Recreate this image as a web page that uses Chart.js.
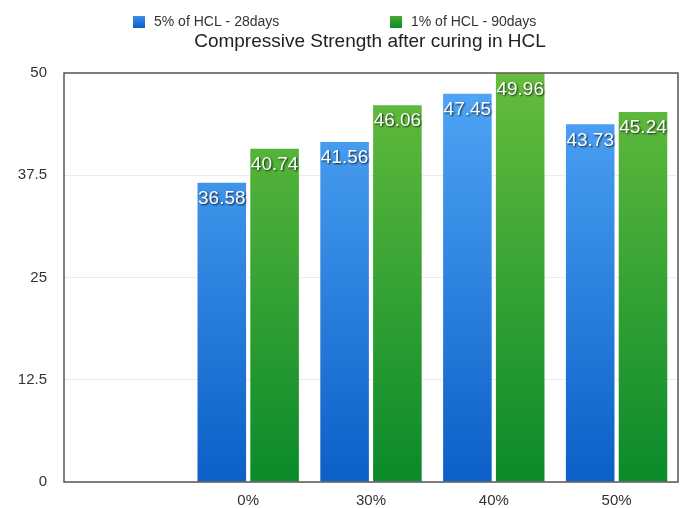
<!DOCTYPE html>
<html>
<head>
<meta charset="utf-8">
<script src="https://cdn.jsdelivr.net/npm/chart.js@4/dist/chart.umd.min.js"></script>
<style>
  html, body { margin: 0; padding: 0; background: #ffffff; }
  #wrap { width: 684px; height: 508px; position: relative; }
</style>
</head>
<body>
<div id="wrap"><canvas id="c" width="684" height="508"></canvas></div>
<script>
// Replacement levels (the first slot is left empty)
const categories = ['', '0%', '30%', '40%', '50%'];
const seriesNames = ['5% of HCL - 28days', '1% of HCL - 90days'];
const strength28 = [null, 36.58, 41.56, 47.45, 43.73];
const strength90 = [null, 40.74, 46.06, 49.96, 45.24];
const yTicks = [0, 12.5, 25, 37.5, 50];
const chartTitle = 'Compressive Strength after curing in HCL';

const FONT = '"Liberation Sans", Arial, Helvetica, sans-serif';

function verticalGradient(top, bottom) {
  return function (ctx) {
    const area = ctx.chart.chartArea;
    if (!area) return bottom;
    const g = ctx.chart.ctx.createLinearGradient(0, area.top, 0, area.bottom);
    g.addColorStop(0, top);
    g.addColorStop(1, bottom);
    return g;
  };
}

const blueTop = '#52a8f7', blueBottom = '#0b5fc7';
const greenTop = '#66bd3d', greenBottom = '#0a8a2b';

// Legend, title, frame and value labels
const decorations = {
  id: 'decorations',
  afterDatasetsDraw(chart) {
    const { ctx, chartArea } = chart;
    ctx.save();
    // frame around the plot
    ctx.strokeStyle = '#555555';
    ctx.lineWidth = 1.5;
    ctx.strokeRect(chartArea.left, chartArea.top, chartArea.right - chartArea.left, chartArea.bottom - chartArea.top);

    // value labels at the top of each bar
    ctx.font = '19px ' + FONT;
    ctx.textAlign = 'center';
    ctx.textBaseline = 'middle';
    chart.data.datasets.forEach((ds, di) => {
      const meta = chart.getDatasetMeta(di);
      meta.data.forEach((bar, i) => {
        const v = ds.data[i];
        if (v === null || v === undefined) return;
        const txt = v.toFixed(2);
        const y = bar.y + 16;
        ctx.shadowColor = 'rgba(0,0,0,0.8)';
        ctx.shadowBlur = 2;
        ctx.shadowOffsetX = 1;
        ctx.shadowOffsetY = 1;
        ctx.fillStyle = '#ffffff';
        ctx.fillText(txt, bar.x, y);
      });
    });
    ctx.restore();
  },
  afterDraw(chart) {
    const { ctx } = chart;
    ctx.save();
    // legend
    const legendX = [133, 390];
    const swatch = [blueBottom, greenBottom];
    const swatchTop = ['#3b8fe6', '#4aaa35'];
    ctx.font = '14px ' + FONT;
    ctx.textBaseline = 'middle';
    ctx.textAlign = 'left';
    chart.data.datasets.forEach((ds, i) => {
      const x = legendX[i];
      const g = ctx.createLinearGradient(0, 16, 0, 28);
      g.addColorStop(0, swatchTop[i]);
      g.addColorStop(1, swatch[i]);
      ctx.fillStyle = g;
      ctx.fillRect(x, 16, 12, 12);
      ctx.fillStyle = '#333333';
      ctx.fillText(ds.label, x + 21, 22);
    });
    // title
    ctx.font = '19px ' + FONT;
    ctx.textAlign = 'center';
    ctx.fillStyle = '#222222';
    ctx.fillText(chartTitle, 370, 42);
    ctx.restore();
  }
};

new Chart(document.getElementById('c'), {
  type: 'bar',
  data: {
    labels: categories,
    datasets: [
      {
        label: seriesNames[0],
        data: strength28,
        backgroundColor: verticalGradient(blueTop, blueBottom),
        borderWidth: 0
      },
      {
        label: seriesNames[1],
        data: strength90,
        backgroundColor: verticalGradient(greenTop, greenBottom),
        borderWidth: 0
      }
    ]
  },
  options: {
    responsive: false,
    animation: false,
    layout: { padding: { top: 73, right: 6, left: 0, bottom: 0 } },
    datasets: {
      bar: { categoryPercentage: 0.86, barPercentage: 0.92 }
    },
    plugins: {
      legend: { display: false },
      title: { display: false },
      tooltip: { enabled: false }
    },
    scales: {
      x: {
        grid: { display: false },
        border: { display: false },
        ticks: {
          color: '#333333',
          font: { family: FONT, size: 15 },
          padding: 2
        },
        afterFit(scale) { scale.height = 26; }
      },
      y: {
        min: 0,
        max: 50,
        afterBuildTicks(scale) {
          scale.ticks = yTicks.map(v => ({ value: v }));
        },
        grid: { color: '#ececec', lineWidth: 1, drawTicks: false },
        border: { display: false },
        ticks: {
          color: '#333333',
          font: { family: FONT, size: 15 },
          padding: 17
        },
        afterFit(scale) { scale.width = 64; }
      }
    }
  },
  plugins: [decorations]
});
</script>
</body>
</html>
